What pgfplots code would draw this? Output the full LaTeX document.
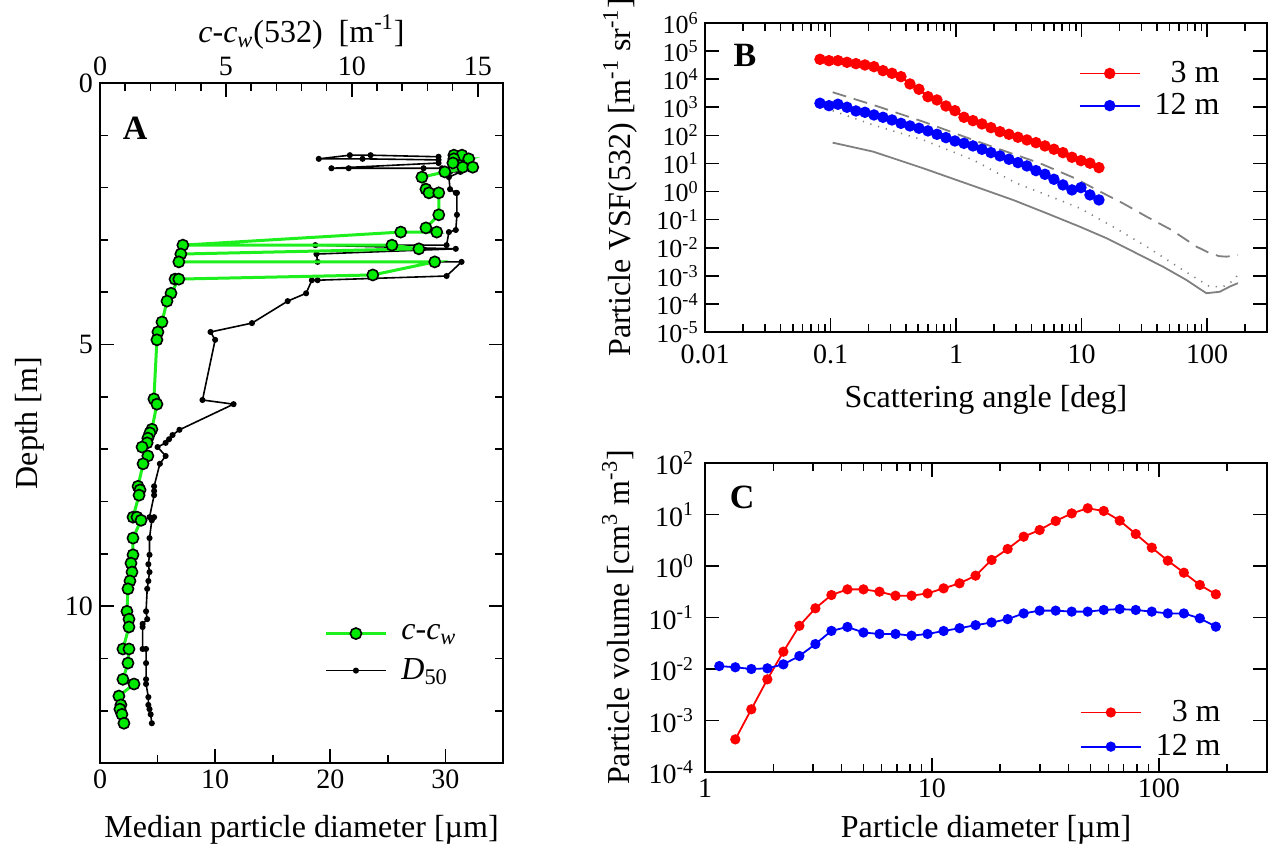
\documentclass[border=0pt]{standalone}
\usepackage{fontspec}
\setmainfont{Liberation Serif}
\usepackage{pgfplots}
\pgfplotsset{compat=1.18}
\definecolor{cgreen}{RGB}{0,235,0}
\definecolor{lgreen}{RGB}{30,240,30}
\definecolor{cgray}{RGB}{128,128,128}
\definecolor{cred}{RGB}{255,0,0}
\definecolor{cblue}{RGB}{0,0,255}
\pgfplotsset{
  every axis/.append style={
    scale only axis, tick align=inside,
    axis line style={line width=0.9pt},
    every tick/.style={black, line width=0.8pt},
    major tick length=7pt, minor tick length=4pt,
    tick label style={font=\fontsize{14}{16}\selectfont},
    label style={font=\fontsize{16}{19}\selectfont},
    /pgf/number format/assume math mode=true,
  },
  mylegend/.style={legend image code/.code={\draw[mark repeat=2,mark phase=2,##1] plot coordinates {(0pt,0pt) (15pt,0pt) (30pt,0pt)};}},
}
\pgfplotstableread{
x y
29.4 1.41
23.5 1.38
21.7 1.38
19.0 1.45
22.8 1.45
29.4 1.47
29.4 1.53
20.1 1.63
21.6 1.63
28.1 1.63
29.7 1.63
30.4 1.70
31.3 1.70
30.3 1.80
30.4 2.03
30.9 2.10
31.0 2.10
31.0 2.52
30.9 2.81
30.3 2.85
30.1 3.10
18.7 3.10
30.9 3.17
18.8 3.27
18.9 3.42
31.4 3.42
30.1 3.69
18.9 3.77
18.4 3.77
17.9 4.02
16.3 4.17
13.2 4.59
9.6 4.76
10.0 4.91
8.9 6.06
11.6 6.14
6.9 6.63
6.3 6.73
6.0 6.81
5.7 6.88
5.0 6.96
5.7 7.13
5.2 7.28
4.7 7.71
4.7 7.80
4.7 7.88
4.3 8.30
4.7 8.30
4.5 8.36
4.3 8.70
4.3 9.02
4.2 9.20
4.3 9.35
4.2 9.52
4.1 9.67
4.0 10.10
4.1 10.25
3.7 10.34
3.7 10.40
3.7 10.82
4.0 10.82
4.0 11.09
4.0 11.40
4.0 11.49
4.2 11.74
4.2 11.89
4.3 11.97
4.4 12.07
4.5 12.24
}\dfifty
\pgfplotstableread{
x y
14.05 1.38
14.37 1.38
14.05 1.45
14.64 1.45
14.01 1.53
14.40 1.61
14.80 1.61
13.69 1.70
12.78 1.80
12.94 2.03
13.06 2.10
13.45 2.10
13.45 2.52
12.94 2.77
13.37 2.85
11.94 2.85
3.29 3.10
11.59 3.10
12.66 3.17
3.21 3.27
3.13 3.42
13.29 3.42
10.83 3.67
2.98 3.75
3.13 3.75
2.82 4.02
2.66 4.17
2.46 4.57
2.30 4.76
2.26 4.91
2.14 6.04
2.26 6.14
2.06 6.62
1.98 6.69
1.90 6.79
1.87 6.88
1.67 6.96
1.90 7.13
1.71 7.28
1.51 7.71
1.59 7.78
1.55 7.88
1.31 8.30
1.47 8.30
1.63 8.36
1.31 8.70
1.31 9.02
1.23 9.18
1.27 9.35
1.19 9.52
1.11 9.67
1.07 10.10
1.15 10.25
1.15 10.40
0.91 10.82
1.15 10.82
1.11 11.09
0.91 11.40
1.35 11.49
0.75 11.72
0.83 11.89
0.79 11.97
0.87 12.07
0.95 12.24
}\ccw
\pgfplotstableread{
x r b
0.0824 50900 1390
0.0972 45600 1140
0.1146 45600 1280
0.1352 39800 1000
0.1594 35700 738
0.1880 32000 662
0.2218 27900 532
0.2616 20100 440
0.3085 16200 353
0.3639 12300 268
0.4292 6750 216
0.5062 4370 179
0.5971 2380 144
0.7043 1820 109
0.8307 1110 83
0.9797 757 63
1.156 440 52
1.363 334 42
1.608 255 31.9
1.896 188 24.3
2.237 135 18.5
2.638 109 14.1
3.112 85.5 10.7
3.670 68.6 8.15
4.329 55 5.56
5.106 42 4.11
6.022 32 2.73
7.103 24.2 1.72
8.378 16.6 1.14
9.882 12.6 1.38
11.66 10.2 0.757
13.75 7.1 0.502
}\vsf
\pgfplotstableread{
x y
0.104 3420
0.219 1210
0.547 308
1.37 68.6
2.52 26.3
4.65 10.2
8.8 3.0
14 1.0
21.4 0.38
32.9 0.128
52 0.043
82 0.011
105 0.0064
125 0.0050
143 0.0048
160 0.0052
176 0.0055
}\gdash
\pgfplotstableread{
x y
0.104 757
0.219 234
0.547 68.6
1.37 13.3
3.03 1.97
5.26 0.757
9.68 0.255
17.8 0.056
32.9 0.011
60.5 0.0019
105 0.00041
134 0.00041
160 0.00065
176 0.00108
}\gdot
\pgfplotstableread{
x y
0.104 55
0.219 26.3
0.547 6.74
1.55 1.31
2.85 0.50
5.26 0.169
9.68 0.056
15.8 0.0218
24.2 0.0084
44.6 0.0021
68.4 0.00071
98.6 0.00024
126 0.00027
151 0.00041
176 0.00055
}\gsolid
\pgfplotstableread{
x y
1.360 0.00043
1.600 0.00165
1.883 0.0063
2.215 0.0217
2.606 0.069
3.066 0.151
3.607 0.273
4.244 0.352
4.993 0.352
5.875 0.317
6.912 0.265
8.132 0.265
9.568 0.294
11.26 0.368
13.24 0.461
15.58 0.649
18.33 1.31
21.57 2.14
25.38 3.71
29.85 5.0
35.13 7.48
41.33 10.5
48.62 13.2
57.21 11.7
67.30 7.59
79.18 4.18
93.16 2.27
109.6 1.27
129.0 0.741
151.7 0.428
178.5 0.282
}\pvred
\pgfplotstableread{
x y
1.156 0.0114
1.360 0.0108
1.600 0.0100
1.883 0.0103
2.215 0.0123
2.606 0.0179
3.066 0.0305
3.607 0.0550
4.244 0.0655
4.993 0.0511
5.875 0.0479
6.912 0.0479
8.132 0.0444
9.568 0.0479
11.26 0.0547
13.24 0.062
15.58 0.071
18.33 0.080
21.57 0.093
25.38 0.12
29.85 0.136
35.13 0.136
41.33 0.13
48.62 0.13
57.21 0.14
67.30 0.146
79.18 0.14
93.16 0.13
109.6 0.12
129.0 0.12
151.7 0.0964
178.5 0.0664
}\pvblue
\begin{document}
\begin{tikzpicture}
% ---------- Panel A (bottom axis, D50) ----------
\begin{axis}[at={(50pt,43.5pt)}, anchor=south west, width=201.5pt, height=340pt,
  xmin=0, xmax=35, ymin=0, ymax=13, y dir=reverse,
  xtick={0,10,20,30}, minor xtick={5,15,25}, xtick pos=left,
  ytick={0,5,10}, minor ytick={1,2,3,4,6,7,8,9,11,12},
  xlabel={Median particle diameter [µm]}, ylabel={Depth [m]},
  xlabel style={at={(axis description cs:0.5,-0.0985)}, anchor=center},
  ylabel style={at={(axis description cs:-0.174,0.5)}, anchor=center},
]
\addplot[black, line width=0.8pt, mark=*, mark size=1.1pt] table[x=x,y=y] {\dfifty};
\node[font=\bfseries\fontsize{17}{19}\selectfont] at (axis description cs:0.087,0.934) {A};
\end{axis}
% ---------- Panel A (top axis, c-cw) ----------
\begin{axis}[at={(50pt,43.5pt)}, anchor=south west, width=201.5pt, height=340pt,
  xmin=0, xmax=16, ymin=0, ymax=13, y dir=reverse,
  axis x line*=top, hide y axis, tick align=inside,
  xtick={0,5,10,15}, minor x tick num=4,
  xlabel={\textit{c}-\textit{c}\textsubscript{\textit{w}}(532)~~[m\textsuperscript{-1}]},
  xlabel style={at={(axis description cs:0.5,1.075)}, anchor=center},
  mylegend,
  legend style={at={(axis description cs:0.541,0.216)}, anchor=north west, draw=none, fill=none,
    font=\fontsize{16}{19}\selectfont, row sep=4pt,
    /tikz/every odd column/.append style={column sep=5pt}},
  legend cell align=left,
]
\addplot[lgreen, line width=1.5pt, mark=*, mark size=2.8pt,
  mark options={fill=cgreen, draw=black, line width=0.8pt}] table[x=x,y=y] {\ccw};
\addlegendentry{\textit{c}-\textit{c}\textsubscript{\textit{w}}}
\addlegendimage{black, line width=0.8pt, mark=*, mark size=1.1pt}
\addlegendentry{\textit{D}\textsubscript{50}}
\end{axis}
% ---------- Panel B ----------
\begin{axis}[at={(352.5pt,259pt)}, anchor=south west, width=281pt, height=154.5pt,
  xmode=log, ymode=log, xmin=0.01, xmax=300, ymin=1e-5, ymax=1e6,
  xtick={0.01,0.1,1,10,100}, xticklabels={0.01,0.1,1,10,100},
  xticklabel style={yshift=-3pt},
  minor xtick={0.02,0.03,0.04,0.05,0.06,0.07,0.08,0.09,0.2,0.3,0.4,0.5,0.6,0.7,0.8,0.9,2,3,4,5,6,7,8,9,20,30,40,50,60,70,80,90,200},
  ytick={1e-5,1e-4,1e-3,1e-2,1e-1,1,10,100,1000,1e4,1e5,1e6},
  yticklabels={10\textsuperscript{-5},10\textsuperscript{-4},10\textsuperscript{-3},10\textsuperscript{-2},10\textsuperscript{-1},10\textsuperscript{0},10\textsuperscript{1},10\textsuperscript{2},10\textsuperscript{3},10\textsuperscript{4},10\textsuperscript{5},10\textsuperscript{6}},
  yticklabel style={font=\fontsize{13}{13}\selectfont, inner sep=1pt, xshift=-2pt},
  yminorticks=false,
  xlabel={Scattering angle [deg]},
  ylabel={Particle VSF(532) [m\textsuperscript{-1} sr\textsuperscript{-1}]},
  xlabel style={at={(axis description cs:0.5,-0.22)}, anchor=center},
  ylabel style={at={(axis description cs:-0.151,0.5)}, anchor=center},
  mylegend,
  legend style={at={(axis description cs:0.934,0.903)}, anchor=north east, draw=none, fill=none,
    font=\fontsize{16}{19}\selectfont, row sep=0pt,
    /tikz/every odd column/.append style={column sep=5pt}},
  legend cell align=right,
]
\addplot[cgray, line width=0.9pt, dash pattern=on 7pt off 4pt, forget plot] table[x=x,y=y] {\gdash};
\addplot[cgray, line width=0.8pt, dash pattern=on 0.6pt off 3.4pt, forget plot] table[x=x,y=y] {\gdot};
\addplot[cgray, line width=0.9pt, forget plot] table[x=x,y=y] {\gsolid};
\addplot[cred, line width=0.9pt, mark=*, mark size=2.4pt] table[x=x,y=r] {\vsf};
\addlegendentry{3 m}
\addplot[cblue, line width=0.9pt, mark=*, mark size=2.4pt] table[x=x,y=b] {\vsf};
\addlegendentry{12 m}
\node[font=\bfseries\fontsize{17}{19}\selectfont] at (axis description cs:0.071,0.896) {B};
\end{axis}
% ---------- Panel C ----------
\begin{axis}[at={(352.5pt,39pt)}, anchor=south west, width=281pt, height=154.5pt,
  xmode=log, ymode=log, xmin=1, xmax=300, ymin=1e-4, ymax=100,
  xtick={1,10,100}, xticklabels={1,10,100},
  minor xtick={2,3,4,5,6,7,8,9,20,30,40,50,60,70,80,90,200},
  ytick={1e-4,1e-3,1e-2,1e-1,1,10,100},
  yticklabels={10\textsuperscript{-4},10\textsuperscript{-3},10\textsuperscript{-2},10\textsuperscript{-1},10\textsuperscript{0},10\textsuperscript{1},10\textsuperscript{2}},
  yticklabel style={xshift=-2pt},
  yminorticks=false,
  xlabel={Particle diameter [µm]},
  ylabel={Particle volume [cm\textsuperscript{3} m\textsuperscript{-3}]},
  xlabel style={at={(axis description cs:0.5,-0.188)}, anchor=center},
  ylabel style={at={(axis description cs:-0.155,0.5)}, anchor=center},
  mylegend,
  legend style={at={(axis description cs:0.936,0.259)}, anchor=north east, draw=none, fill=none,
    font=\fontsize{16}{19}\selectfont, row sep=1pt,
    /tikz/every odd column/.append style={column sep=5pt}},
  legend cell align=right,
]
\addplot[cred, line width=0.9pt, mark=*, mark size=2.1pt] table[x=x,y=y] {\pvred};
\addlegendentry{3 m}
\addplot[cblue, line width=0.9pt, mark=*, mark size=2.1pt] table[x=x,y=y] {\pvblue};
\addlegendentry{12 m}
\node[font=\bfseries\fontsize{17}{19}\selectfont] at (axis description cs:0.066,0.89) {C};
\end{axis}
\pgfresetboundingbox
\path (0,0) rectangle (636pt,425pt);
\end{tikzpicture}
\end{document}
